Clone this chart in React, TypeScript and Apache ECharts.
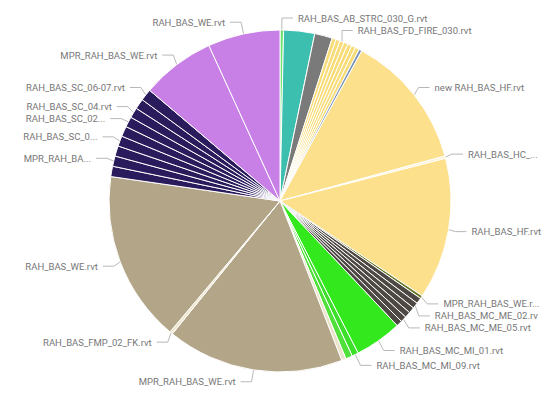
import React, { useEffect, useRef } from "react";
import * as echarts from "echarts";

const names = [
  "RAH_BAS_AB_STRC_030_G.rvt",
  "RAH_BAS_AB_STRC_010.rvt",
  "RAH_BAS_AB_STRC_020.rvt",
  "RAH_BAS_FD_FIRE_010.rvt",
  "RAH_BAS_FD_FIRE_020.rvt",
  "RAH_BAS_FD_FIRE_030.rvt",
  "RAH_BAS_FD_FIRE_040.rvt",
  "RAH_BAS_FD_FIRE_050.rvt",
  "RAH_BAS_FD_FIRE_060.rvt",
  "RAH_BAS_FD_FIRE_070.rvt",
  "RAH_BAS_FD_SPR.rvt",
  "new RAH_BAS_HF.rvt",
  "RAH_BAS_HC_01.rvt",
  "RAH_BAS_HF.rvt",
  "MPR_RAH_BAS_WE.rvt",
  "RAH_BAS_MC_ME_01.rvt",
  "RAH_BAS_MC_ME_02.rvt",
  "RAH_BAS_MC_ME_03.rvt",
  "RAH_BAS_MC_ME_04.rvt",
  "RAH_BAS_MC_ME_05.rvt",
  "RAH_BAS_MC_ME_06.rvt",
  "RAH_BAS_MC_MI_01.rvt",
  "RAH_BAS_MC_MI_09.rvt",
  "RAH_BAS_MC_MI_10.rvt",
  "RAH_BAS_PL.rvt",
  "MPR_RAH_BAS_WE.rvt",
  "RAH_BAS_FMP_02_FK.rvt",
  "RAH_BAS_WE.rvt",
  "RAH_BAS_SC_00.rvt",
  "MPR_RAH_BAS_SC.rvt",
  "RAH_BAS_SC_01.rvt",
  "RAH_BAS_SC_01a.rvt",
  "RAH_BAS_SC_01b.rvt",
  "RAH_BAS_SC_02-03.rvt",
  "RAH_BAS_SC_04.rvt",
  "RAH_BAS_SC_05.rvt",
  "RAH_BAS_SC_06-07.rvt",
  "MPR_RAH_BAS_WE.rvt",
  "RAH_BAS_WE.rvt",
];

const values = [
  1.2, 10.5, 6, 1.4, 1.4, 1.4, 1.4, 1.4, 1.4, 1.4, 1.0, 46, 0.8, 48, 1.0,
  2, 2, 2, 2, 2, 2, 16, 2.2, 2.3, 1.5, 60, 1.0, 58,
  3.5, 3.5, 3.5, 3.5, 3.5, 3.5, 3.5, 3.5, 4, 25, 24.5,
];

const labelTexts = [
  "RAH_BAS_AB_STRC_030_G.rvt", "", "", "", "", "RAH_BAS_FD_FIRE_030.rvt", "", "", "", "", "",
  "new RAH_BAS_HF.rvt", "RAH_BAS_HC_...", "RAH_BAS_HF.rvt", "MPR_RAH_BAS_WE.r...",
  "", "RAH_BAS_MC_ME_02.rv", "", "", "RAH_BAS_MC_ME_05.rvt", "",
  "RAH_BAS_MC_MI_01.rvt", "RAH_BAS_MC_MI_09.rvt", "", "",
  "MPR_RAH_BAS_WE.rvt", "RAH_BAS_FMP_02_FK.rvt", "RAH_BAS_WE.rvt",
  "", "MPR_RAH_BA...", "", "RAH_BAS_SC_0...", "", "RAH_BAS_SC_02...", "RAH_BAS_SC_04.rvt", "", "RAH_BAS_SC_06-07.rvt",
  "MPR_RAH_BAS_WE.rvt", "RAH_BAS_WE.rvt",
];

const colors = [
  "#6EE36E", "#3DBFB0", "#7A7A7A",
  "#F8DC78", "#F8DC78", "#F8DC78", "#F8DC78", "#F8DC78", "#F8DC78", "#F8DC78",
  "#7B93B8", "#FDE08C", "#FBF0CF", "#FDE08C", "#6B7A2A",
  "#4D4843", "#4D4843", "#4D4843", "#4D4843", "#4D4843", "#4D4843",
  "#33E81C", "#3CE02A", "#4FE03A", "#EAE3CC",
  "#B3A587", "#EFE6CC", "#B3A587",
  "#2A1B5C", "#2A1B5C", "#2A1B5C", "#2A1B5C", "#2A1B5C", "#2A1B5C", "#2A1B5C", "#2A1B5C", "#2A1B5C",
  "#C880E6", "#C880E6",
];

export default function App() {
  const ref = useRef<HTMLDivElement>(null);
  useEffect(() => {
    if (!ref.current) return;
    const chart = echarts.init(ref.current, null, { renderer: "svg" });
    const data = names.map((n, i) => ({
      name: n,
      value: values[i],
      itemStyle: { color: colors[i] },
      label: { show: labelTexts[i] !== "" },
      labelLine: { show: labelTexts[i] !== "" },
    }));
    chart.setOption({
      animation: false,
      series: [
        {
          type: "pie",
          center: [280, 201],
          radius: [0, 171],
          startAngle: 90,
          clockwise: true,
          avoidLabelOverlap: true,
          data,
          itemStyle: { borderColor: "#ffffff", borderWidth: 1 },
          label: {
            formatter: (p: any) => labelTexts[p.dataIndex],
            color: "#777777",
            fontSize: 9.5,
            fontFamily: "Roboto, sans-serif",
            overflow: "none",
          },
          labelLine: {
            length: 12,
            length2: 11,
            lineStyle: { color: "#b8b8b8", width: 1 },
          },
        },
      ],
    });
    return () => chart.dispose();
  }, []);
  return (
    <div
      ref={ref}
      style={{ position: "absolute", left: 0, top: 0, width: 545, height: 400 }}
    />
  );
}
